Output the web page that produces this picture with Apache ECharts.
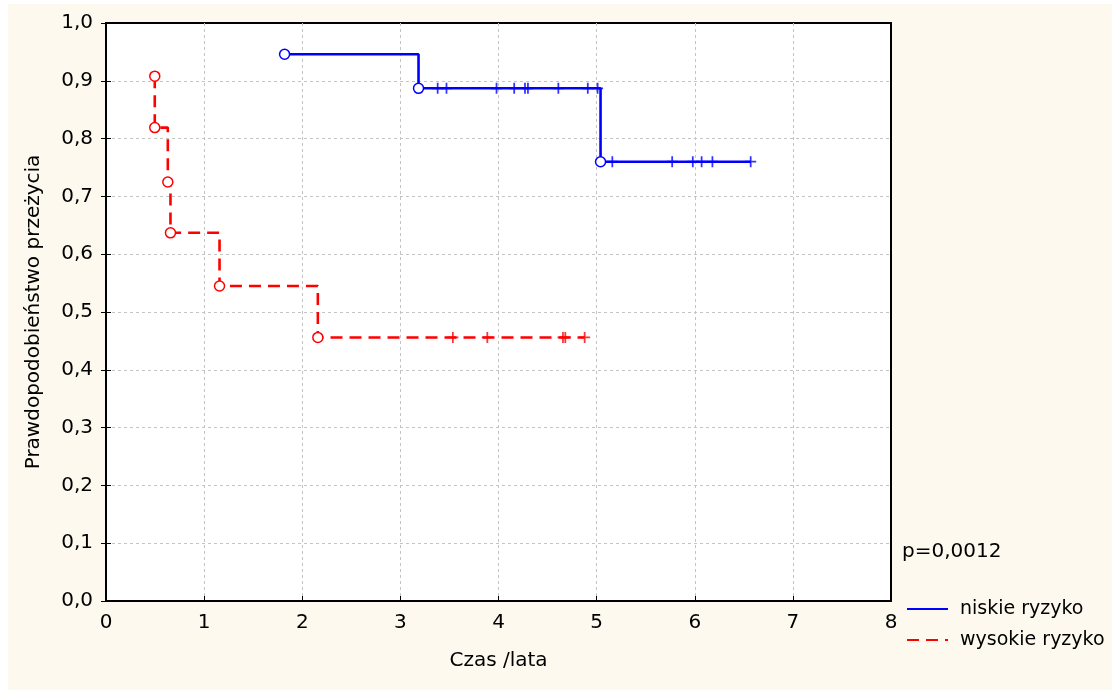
<!DOCTYPE html>
<html>
<head>
<meta charset="utf-8">
<script src="https://cdn.jsdelivr.net/npm/echarts@6/dist/echarts.min.js"></script>
<style>
html,body{margin:0;padding:0;background:#fff;}
#chart{width:1112px;height:690px;}
</style>
</head>
<body>
<div id="chart"></div>
<script>
// ---- data ----
const seriesNames = ['niskie ryzyko', 'wysokie ryzyko'];
const lowEventTimes = [1.82, 3.185, 5.04];
const lowEventSurv = [0.946, 0.887, 0.760];
const lowCensoredTimes = [3.38, 3.47, 3.98, 4.16, 4.27, 4.30, 4.61, 4.91, 5.01, 5.16, 5.77, 5.98, 6.07, 6.18, 6.57];
const highEventTimes = [0.497, 0.497, 0.63, 0.657, 1.157, 2.159];
const highEventSurv = [0.908, 0.819, 0.725, 0.637, 0.545, 0.456];
const highCensoredTimes = [3.535, 3.886, 4.657, 4.681, 4.878];
const xTickLabels = ['0', '1', '2', '3', '4', '5', '6', '7', '8'];
const yTickLabels = ['0,0', '0,1', '0,2', '0,3', '0,4', '0,5', '0,6', '0,7', '0,8', '0,9', '1,0'];
const xTitle = 'Czas /lata';
const yTitle = 'Prawdopodobieństwo przeżycia';
const pText = 'p=0,0012';

// ---- helpers ----
function levelAt(t, times, surv) {
  let v = surv[0];
  for (let i = 0; i < times.length; i++) if (times[i] <= t) v = surv[i];
  return v;
}
function stepLine(times, surv, cens) {
  const pts = times.map((t, i) => [t, surv[i]]);
  const last = Math.max.apply(null, cens);
  pts.push([last, levelAt(last, times, surv)]);
  return pts;
}
function events(times, surv) { return times.map((t, i) => [t, surv[i]]); }
function censored(cens, times, surv) { return cens.map(t => [t, levelAt(t, times, surv)]); }

const FONT = 'DejaVu Sans';
const FS = 20;
const BLUE = '#0000ff';
const RED = '#ff0000';
const PLUS = 'path://M-1.6,-10 L1.6,-10 L1.6,-1.6 L10,-1.6 L10,1.6 L1.6,1.6 L1.6,10 L-1.6,10 L-1.6,1.6 L-10,1.6 L-10,-1.6 L-1.6,-1.6 Z';
const GRIDLINE = {show: true, showMinLine: false, showMaxLine: false,
  lineStyle: {color: '#c4c4c4', width: 1, type: [3, 3]}};

const chart = echarts.init(document.getElementById('chart'), null, {renderer: 'canvas'});
chart.setOption({
  animation: false,
  backgroundColor: '#ffffff',
  textStyle: {fontFamily: FONT},
  graphic: [{
    type: 'rect', z: -10, silent: true,
    shape: {x: 8, y: 4, width: 1104, height: 686},
    style: {fill: '#fdf9ee'}
  }],
  title: {
    text: pText, left: 897, top: 537,
    textStyle: {fontFamily: FONT, fontSize: FS, fontWeight: 'normal', color: '#000'}
  },
  legend: {
    data: seriesNames,
    orient: 'vertical',
    left: 901, top: 593,
    itemWidth: 41, itemHeight: 14, itemGap: 9,
    itemStyle: {opacity: 0},
    textStyle: {fontFamily: FONT, fontSize: 19, color: '#000', lineHeight: 22, padding: [0, 0, 0, 7]}
  },
  grid: {
    left: 106, top: 23, width: 785, height: 578,
    show: true, backgroundColor: '#ffffff', borderColor: '#000', borderWidth: 2,
    containLabel: false
  },
  xAxis: [{
    type: 'value', min: 0, max: 8, interval: 1,
    name: xTitle, nameLocation: 'middle', nameGap: 50,
    nameTextStyle: {fontFamily: FONT, fontSize: FS, color: '#000'},
    axisLine: {show: true, lineStyle: {color: '#000', width: 2}},
    axisTick: {show: true, inside: true, length: 5, lineStyle: {color: '#000', width: 1}},
    axisLabel: {fontFamily: FONT, fontSize: FS, color: '#000', margin: 12,
      formatter: v => xTickLabels[Math.round(v)]},
    splitLine: GRIDLINE
  }, {
    type: 'value', min: 0, max: 8, interval: 1, position: 'top',
    axisLine: {show: true, lineStyle: {color: '#000', width: 2}},
    axisTick: {show: false}, axisLabel: {show: false}, splitLine: {show: false}
  }],
  yAxis: [{
    type: 'value', min: 0, max: 1, interval: 0.1,
    name: yTitle, nameLocation: 'middle', nameGap: 62, nameRotate: 90,
    nameTextStyle: {fontFamily: FONT, fontSize: FS, color: '#000'},
    axisLine: {show: true, lineStyle: {color: '#000', width: 2}},
    axisTick: {show: true, inside: true, length: 5, lineStyle: {color: '#000', width: 1}},
    axisLabel: {fontFamily: FONT, fontSize: FS, color: '#000', margin: 13,
      formatter: v => yTickLabels[Math.round(v * 10)]},
    splitLine: GRIDLINE
  }, {
    type: 'value', min: 0, max: 1, interval: 0.1, position: 'right',
    axisLine: {show: true, lineStyle: {color: '#000', width: 2}},
    axisTick: {show: true, inside: true, length: 5, lineStyle: {color: '#000', width: 1}},
    axisLabel: {show: false},
    splitLine: {show: false}
  }],
  series: [{
    name: seriesNames[0], type: 'line', step: 'end',
    data: stepLine(lowEventTimes, lowEventSurv, lowCensoredTimes),
    symbol: 'none', color: BLUE,
    lineStyle: {color: BLUE, width: 2.6, type: 'solid'}, z: 3
  }, {
    name: seriesNames[1], type: 'line', step: 'end',
    data: stepLine(highEventTimes, highEventSurv, highCensoredTimes),
    symbol: 'none', color: RED,
    lineStyle: {color: RED, width: 2.6, type: [12, 7]}, z: 3
  }, {
    type: 'scatter', data: censored(lowCensoredTimes, lowEventTimes, lowEventSurv),
    symbol: PLUS, symbolSize: 11, itemStyle: {color: BLUE}, z: 4
  }, {
    type: 'scatter', data: censored(highCensoredTimes, highEventTimes, highEventSurv),
    symbol: PLUS, symbolSize: 11, itemStyle: {color: RED}, z: 4
  }, {
    type: 'scatter', data: events(lowEventTimes, lowEventSurv),
    symbol: 'circle', symbolSize: 10,
    itemStyle: {color: '#fff', borderColor: BLUE, borderWidth: 1.5, opacity: 1}, z: 5
  }, {
    type: 'scatter', data: events(highEventTimes, highEventSurv),
    symbol: 'circle', symbolSize: 10,
    itemStyle: {color: '#fff', borderColor: RED, borderWidth: 1.5, opacity: 1}, z: 5
  }]
});
</script>
</body>
</html>
